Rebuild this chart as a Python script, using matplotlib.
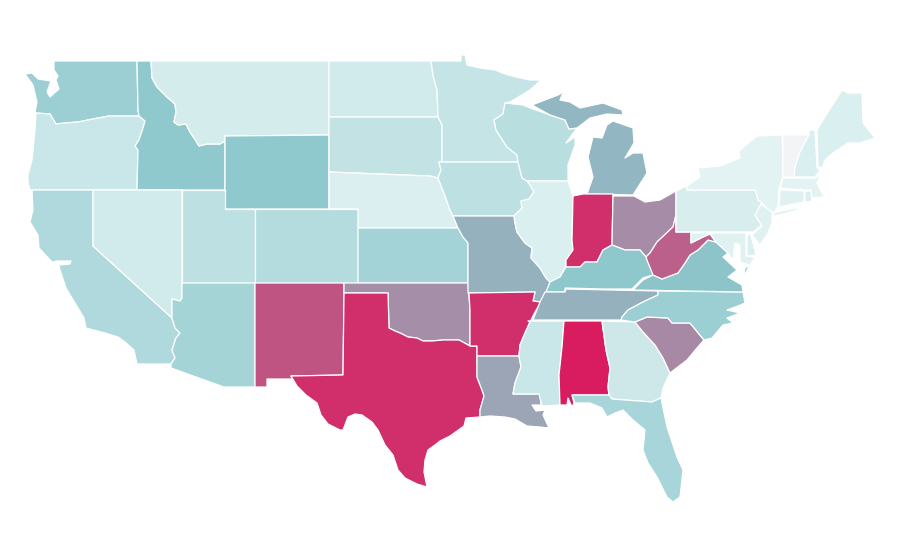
"""
US choropleth, state outlines traced from the reference in image pixels
"""

import matplotlib
matplotlib.use('Agg')
import matplotlib.pyplot as plt
from matplotlib.colors import LinearSegmentedColormap, Normalize
from matplotlib.patches import Polygon

STATES = ['WA', 'OR', 'CA', 'ID', 'NV', 'MT', 'WY', 'UT', 'AZ', 'CO', 'NM',
          'ND', 'SD', 'NE', 'KS', 'OK', 'TX', 'MN', 'IA', 'MO', 'AR', 'LA',
          'WI', 'IL', 'MI', 'IN', 'OH', 'KY', 'TN', 'MS', 'AL', 'GA', 'FL',
          'SC', 'NC', 'VA', 'WV', 'PA', 'NY', 'VT', 'NH', 'ME', 'MA', 'CT',
          'RI', 'NJ', 'DE', 'MD']
VALUES = [38, 19, 30, 43, 16, 14, 43, 24, 34, 28, 82,
          16, 22, 11, 35, 63, 94, 21, 24, 52, 94, 56,
          26, 12, 50, 94, 64, 44, 52, 19, 100, 17, 33,
          65, 38, 46, 78, 13, 8, 0, 12, 12, 8, 10,
          12, 10, 12, 10]

# shared borders
ID_MT = [(151, 61), (152, 78), (157, 87), (167, 97), (175, 104), (176, 112), (174, 122),
         (178, 125), (186, 124), (190, 132), (196, 141), (199, 146), (207, 144), (220, 144),
         (225, 141)]
OR_ID = [(139, 116), (145, 121), (143, 128), (139, 140), (135, 146), (138, 150), (137, 190)]
WA_OR = [(36, 113), (50, 114), (53, 119), (56, 124), (65, 123), (78, 122), (93, 119),
         (109, 116), (139, 116)]
CA_AZ = [(172, 318), (175, 328), (180, 333), (176, 338), (172, 350), (175, 358), (171, 364)]
TX_OK = [(389, 328), (395, 331), (400, 333), (408, 337), (417, 338), (423, 341), (432, 341),
         (443, 340), (459, 340), (470, 346)]
TX_LA = [(477, 346), (477, 377), (482, 390), (484, 396), (480, 410), (480, 417)]
AR_MS = [(541, 302), (535, 312), (530, 322), (525, 333), (520, 345), (519, 356)]
LA_MS = [(519, 356), (521, 367), (515, 383), (513, 394)]
MO_IL = [(514, 216), (515, 223), (517, 232), (525, 243), (532, 248), (531, 258), (540, 268),
         (546, 278), (550, 282)]
IA_IL = [(527, 181), (530, 185), (534, 192), (529, 199), (521, 201), (522, 208), (514, 216)]
IA_MN = [(518, 162), (439, 162)]
MN_WI = [(505, 103), (503, 114), (494, 120), (496, 130), (507, 147), (517, 155), (518, 162),
         (520, 170), (522, 178), (527, 181)]
IA_NE = [(439, 162), (441, 170), (438, 178), (445, 196), (450, 210), (453, 216)]
IN_KY = [(566, 267), (580, 267), (585, 262), (597, 262), (603, 250), (612, 245)]
OH_KY = [(612, 245), (625, 250), (640, 250), (646, 257)]
OH_WV = [(646, 257), (650, 253), (657, 242), (673, 227), (676, 215)]
WV_VA = [(653, 275), (662, 279), (678, 273), (685, 263), (690, 255), (698, 250), (708, 240),
         (716, 242)]
NJ_PA = [(755, 190), (758, 200), (762, 203), (755, 215), (762, 225), (753, 232)]
AL_GA = [(602, 321), (606, 350), (610, 368), (608, 387), (609, 395)]
MS_AL = [(564, 321), (562, 347), (559, 375), (560, 405)]
TN_NC = [(658, 291), (658, 295), (643, 302), (628, 310), (622, 317), (621, 320)]
SC_GA = [(635, 322), (643, 332), (655, 345), (663, 358), (670, 373)]
SC_NC = [(635, 322), (647, 317), (668, 318), (672, 323), (690, 323), (704, 340)]

OUTLINES = {
    'WA': [[(54, 61), (137, 61), (138, 110)] + WA_OR[::-1] +
           [(35, 112), (37, 102), (33, 85), (25, 74), (32, 73), (38, 79), (51, 81), (47, 92),
            (50, 97), (59, 89), (56, 80), (58, 76), (54, 70)]],
    'OR': [WA_OR + OR_ID[1:] +
           [(30, 190), (28, 182), (28, 175), (32, 160), (35, 130)]],
    'CA': [[(32, 190), (93, 190), (93, 246)] + CA_AZ +
           [(137, 364), (134, 350), (125, 342), (118, 337), (105, 333), (86, 328), (84, 318),
            (72, 298), (66, 288), (60, 270), (59, 265), (70, 264), (71, 261), (57, 261), (52, 262),
            (39, 248), (38, 235), (30, 222), (33, 210)]],
    'ID': [[(137, 61)] + ID_MT + [(225, 190)] + OR_ID[::-1] + [(138, 110)]],
    'NV': [[(93, 190), (182, 190), (182, 298), (180, 301), (172, 299), (172, 318), (93, 246)]],
    'MT': [[(151, 61), (329, 61), (329, 135), (225, 136)] + ID_MT[::-1]],
    'WY': [[(225, 136), (329, 135), (329, 209), (225, 209)]],
    'UT': [[(182, 190), (225, 190), (225, 209), (255, 209), (255, 283), (182, 283)]],
    'AZ': [[(182, 283), (255, 283), (255, 387), (224, 387), (171, 368)] + CA_AZ[::-1] +
           [(172, 299), (180, 301), (182, 298)]],
    'CO': [[(255, 209), (358, 209), (358, 283), (255, 283)]],
    'NM': [[(255, 283), (344, 283), (344, 293), (343, 375), (291, 376), (293, 379), (267, 379),
            (267, 387), (255, 387)]],
    'ND': [[(329, 61), (431, 61), (433, 75), (437, 90), (438, 117), (329, 117)]],
    'SD': [[(329, 117), (438, 117), (442, 125), (442, 162), (439, 162), (441, 170), (438, 178),
            (430, 176), (329, 172)]],
    'NE': [[(329, 172), (430, 176)] + IA_NE[2:] + [(458, 228), (358, 228), (358, 209), (329, 209)]],
    'KS': [[(358, 228), (458, 228), (463, 237), (468, 243), (468, 283), (358, 283)]],
    'OK': [[(344, 283), (468, 283), (470, 310), (470, 346)] + TX_OK[::-1] +
           [(388, 293), (344, 293)]],
    'TX': [[(344, 293), (388, 293)] + TX_OK + TX_LA +
           [(466, 418), (464, 426), (450, 436), (440, 441), (435, 445), (428, 450), (425, 460),
            (424, 472), (427, 487), (417, 484), (405, 478), (398, 470), (393, 455), (385, 445),
            (378, 430), (372, 422), (362, 415), (355, 414), (348, 417), (343, 430), (340, 430),
            (328, 424), (321, 415), (317, 403), (306, 395), (297, 386), (291, 376), (343, 375)]],
    'MN': [[(431, 61), (461, 61), (461, 55), (465, 55), (467, 65), (480, 68), (495, 70), (505, 74),
            (520, 78), (530, 80), (541, 80), (530, 90), (510, 102)] + MN_WI[:7] + IA_MN +
           [(442, 162), (442, 125), (438, 117), (437, 90), (433, 75)]],
    'IA': [IA_MN + IA_NE[1:] + IA_IL[::-1] + MN_WI[7:][::-1]],
    'MO': [[(453, 216)] + MO_IL +
           [(549, 285), (546, 293), (541, 302), (533, 301), (535, 292), (468, 293), (468, 243),
            (463, 237), (458, 228)]],
    'AR': [[(469, 293), (535, 292), (533, 301)] + AR_MS + [(477, 356), (477, 346), (470, 346), (470, 310)]],
    'LA': [[(477, 356)] + LA_MS +
           [(540, 394), (541, 405), (532, 405), (536, 411), (545, 410), (543, 415), (549, 428),
            (540, 427), (527, 426), (515, 419), (505, 417), (490, 416), (480, 417)] +
           TX_LA[:0:-1][1:]],
    'WI': [[(505, 103), (523, 105), (533, 109), (550, 115), (565, 120), (569, 129), (577, 128),
            (566, 143), (575, 137), (575, 145), (568, 165), (568, 181), (527, 181)] +
           MN_WI[::-1][1:]],
    'IL': [[(527, 181), (568, 181), (573, 196), (572, 240), (573, 250), (566, 260), (566, 267),
            (560, 277), (550, 282)] + MO_IL[::-1][1:] + IA_IL[::-1][1:]],
    'MI': [[(532, 105), (558, 95), (568, 90), (562, 95), (560, 100), (570, 102), (580, 108),
            (603, 103), (622, 110), (623, 115), (607, 114), (590, 118), (577, 128), (569, 129),
            (565, 120), (550, 115)],
           [(587, 194), (593, 177), (588, 157), (593, 137), (602, 138), (607, 125), (613, 121),
            (633, 128), (634, 143), (625, 158), (633, 153), (643, 153), (647, 173), (633, 195)],
           [(550, 81), (557, 78), (556, 80)]],
    'IN': [[(573, 196), (583, 194), (613, 194), (612, 245)] + IN_KY[::-1] + [(566, 260), (573, 250), (572, 240)]],
    'OH': [[(613, 196), (634, 196), (645, 202), (660, 200), (676, 191), (676, 215)] +
           OH_WV[::-1][1:] + OH_KY[::-1][1:]],
    'KY': [[(550, 282), (560, 277)] + IN_KY + OH_KY[1:] +
           [(647, 260), (653, 272), (653, 275), (643, 278), (632, 289), (603, 289), (565, 288),
            (565, 292), (546, 292)]],
    'TN': [[(545, 292), (565, 292), (566, 289)] + TN_NC + [(533, 320), (540, 302)]],
    'MS': [[(528, 321), (564, 321)] + MS_AL[1:] +
           [(542, 406), (539, 394), (513, 394)] + LA_MS[::-1][1:] + AR_MS[::-1][1:4]],
    'AL': [[(564, 321)] + AL_GA +
           [(572, 395), (574, 403), (572, 407), (568, 398), (567, 405), (560, 405)] +
           MS_AL[::-1][1:]],
    'GA': [[(602, 321), (635, 322)] + SC_GA[1:] +
           [(663, 388), (661, 398), (652, 402), (612, 399)] + AL_GA[:0:-1]],
    'FL': [[(572, 395), (609, 395), (612, 399), (652, 402), (661, 398), (667, 427), (677, 457),
            (683, 470), (680, 497), (673, 502), (667, 497), (657, 477), (648, 463), (643, 450),
            (645, 430), (633, 420), (623, 410), (615, 413), (607, 417), (602, 408), (590, 403),
            (575, 403)]],
    'SC': [SC_NC + [(697, 348), (687, 360), (670, 373)] + SC_GA[::-1][1:]],
    'NC': [TN_NC[::-1] + [(658, 291), (743, 292), (745, 303), (738, 306), (727, 310), (740, 313),
                          (727, 318), (733, 323), (723, 325), (712, 338), (704, 340)] +
           SC_NC[::-1][1:] + [(621, 320)]],
    'VA': [[(633, 290), (643, 280)] + WV_VA +
           [(728, 253), (723, 257), (737, 270), (728, 277), (742, 285), (743, 292)],
           [(750, 265), (743, 277), (745, 268)]],
    'WV': [OH_WV + [(676, 232), (691, 232), (691, 243), (703, 237), (710, 234), (716, 242)] +
           WV_VA[::-1][1:] + [(647, 260)]],
    'PA': [[(676, 191), (687, 186), (687, 190)] + NJ_PA + [(676, 232)]],
    'NY': [[(687, 190), (687, 186), (700, 177), (698, 168), (720, 166), (740, 158), (739, 151),
            (757, 136), (782, 135), (783, 160), (783, 177), (779, 188), (778, 207), (773, 213),
            (800, 207), (795, 211), (775, 216), (770, 212), (762, 203), (758, 200), (755, 190)]],
    'VT': [[(783, 135), (809, 135), (800, 152), (795, 167), (794, 177), (783, 177), (783, 160)]],
    'NH': [[(809, 130), (815, 130), (817, 168), (820, 170), (815, 177), (794, 177), (795, 167),
            (800, 152), (809, 135)]],
    'ME': [[(817, 130), (828, 112), (842, 90), (848, 93), (862, 93), (863, 123), (875, 138),
            (860, 143), (848, 143), (833, 153), (825, 160), (822, 168), (818, 167)]],
    'MA': [[(783, 178), (815, 178), (820, 175), (817, 183), (823, 195), (830, 196), (822, 197),
            (812, 198), (811, 190), (804, 190), (780, 188)]],
    'CT': [[(780, 190), (804, 191), (804, 202), (779, 207)]],
    'RI': [[(805, 191), (811, 191), (812, 201), (805, 202)]],
    'NJ': [[(761, 204), (772, 212), (772, 222), (768, 233), (760, 245), (752, 235), (762, 226), (755, 215)]],
    'DE': [[(747, 237), (750, 232), (756, 255), (747, 256)]],
    'MD': [[(691, 233), (746, 233), (746, 256), (755, 257), (750, 265), (740, 262), (740, 245),
            (735, 243), (733, 260), (728, 253), (716, 242), (710, 234), (703, 237), (691, 243)]],
}

cmap = LinearSegmentedColormap.from_list(
    'teal_crimson', [(0.0, '#f3f4f6'), (0.08, '#e3f3f3'), (0.45, '#8bc7cc'), (1.0, '#d91c60')]
)
norm = Normalize(0, 100)

fig = plt.figure(figsize=(9, 5.6), dpi=100)
ax = fig.add_axes([0, 0, 1, 1])
ax.set_xlim(0, 900)
ax.set_ylim(560, 0)
ax.axis('off')

for state, value in zip(STATES, VALUES):
    for part in OUTLINES[state]:
        ax.add_patch(Polygon(part, closed=True, facecolor=cmap(norm(value)),
                             edgecolor='white', linewidth=0.9, joinstyle='round'))

fig.savefig('out.png', dpi=100, facecolor='white')
